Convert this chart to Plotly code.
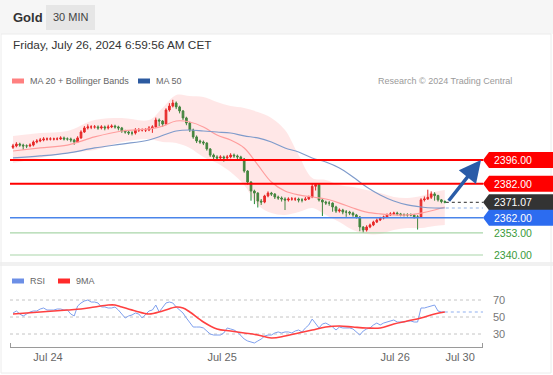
import plotly.graph_objects as go

W, HGT = 553, 375
def px(x): return x / W
def py(y): return 1 - y / HGT

# ---------------- DATA ----------------
first_open = 2403.5
closes = [2404.3, 2405.4, 2404.8, 2404.3, 2404.3, 2404.8, 2406.6, 2407.2, 2407.8, 2408.4,
          2408.4, 2408.4, 2408.4, 2408.4, 2409.0, 2408.4, 2408.4, 2407.8, 2406.6, 2409.0,
          2412.5, 2414.9, 2415.5, 2415.5, 2415.5, 2414.9, 2415.5, 2414.9, 2415.5, 2416.0,
          2415.5, 2414.9, 2413.1, 2412.5, 2411.9, 2411.9, 2413.7, 2413.7, 2413.7, 2413.7,
          2414.9, 2415.5, 2419.6, 2419.0, 2417.2, 2425.5, 2427.8, 2429.6, 2427.3, 2424.9,
          2420.8, 2417.8, 2413.7, 2409.6, 2407.2, 2406.6, 2406.0, 2402.5, 2398.9, 2397.8,
          2397.2, 2397.8, 2397.2, 2397.8, 2398.9, 2398.4, 2397.8, 2396.6, 2389.5, 2383.0,
          2377.7, 2376.5, 2371.8, 2371.2, 2374.8, 2376.5, 2375.9, 2374.2, 2373.6, 2373.0,
          2372.4, 2373.0, 2373.0, 2373.0, 2372.4, 2372.4, 2373.0, 2374.2, 2380.5, 2381.5,
          2372.4, 2371.2, 2370.6, 2370.6, 2368.3, 2365.9, 2366.5, 2365.3, 2365.3, 2364.7,
          2363.6, 2362.4, 2356.5, 2354.7, 2356.5, 2357.7, 2359.4, 2360.6, 2361.8, 2362.4,
          2363.6, 2364.2, 2364.7, 2364.2, 2363.6, 2363.6, 2363.6, 2363.6, 2362.4, 2362.4,
          2372.5, 2373.0, 2374.0, 2376.0, 2375.0, 2372.5, 2371.5, 2371.07]
highs = [2405.5, 2406.5, 2406.2, 2405.6, 2405.2, 2405.8, 2407.5, 2408.3, 2409.0, 2409.5,
         2409.3, 2409.4, 2409.2, 2409.4, 2410.0, 2409.8, 2409.3, 2409.2, 2408.5, 2410.0,
         2413.5, 2416.0, 2417.0, 2416.5, 2416.6, 2416.4, 2416.5, 2416.3, 2416.8, 2417.0,
         2416.8, 2416.2, 2415.5, 2413.8, 2413.2, 2413.0, 2414.8, 2414.8, 2414.6, 2414.8,
         2416.0, 2416.5, 2421.0, 2420.5, 2419.5, 2426.5, 2429.5, 2431.5, 2430.5, 2428.0,
         2425.5, 2421.5, 2418.5, 2414.5, 2410.5, 2408.0, 2407.5, 2406.5, 2403.0, 2399.8,
         2398.8, 2398.8, 2398.6, 2399.0, 2400.0, 2399.8, 2399.2, 2398.5, 2397.2, 2390.0,
         2383.5, 2378.5, 2377.0, 2373.0, 2375.5, 2377.5, 2377.2, 2376.5, 2375.0, 2374.5,
         2374.0, 2374.0, 2374.2, 2374.0, 2373.8, 2373.5, 2374.2, 2375.0, 2382.0, 2382.2,
         2382.0, 2373.0, 2372.0, 2371.8, 2371.0, 2369.0, 2367.5, 2367.2, 2366.5, 2366.0,
         2365.5, 2364.2, 2363.0, 2357.0, 2357.5, 2358.5, 2360.2, 2361.5, 2362.5, 2363.2,
         2364.5, 2365.2, 2365.5, 2365.5, 2364.8, 2364.5, 2364.6, 2364.5, 2364.2, 2363.5,
         2373.5, 2374.5, 2378.5, 2377.5, 2377.0, 2375.5, 2373.0, 2372.2]
lows = [2402.5, 2403.5, 2403.8, 2402.0, 2403.0, 2403.5, 2404.0, 2405.8, 2406.5, 2407.0,
        2407.4, 2407.5, 2407.5, 2407.6, 2407.8, 2407.5, 2407.4, 2406.5, 2405.0, 2406.0,
        2408.5, 2412.0, 2414.0, 2414.2, 2414.5, 2413.8, 2414.0, 2413.5, 2414.0, 2414.8,
        2414.5, 2413.5, 2412.0, 2411.5, 2410.8, 2410.5, 2411.0, 2412.5, 2412.8, 2412.5,
        2413.0, 2412.0, 2415.0, 2416.0, 2415.5, 2416.5, 2424.5, 2427.0, 2426.0, 2423.5,
        2419.5, 2416.5, 2412.5, 2408.5, 2406.0, 2405.5, 2404.8, 2401.5, 2397.8, 2396.5,
        2396.0, 2396.3, 2395.0, 2396.2, 2397.0, 2397.2, 2396.5, 2395.5, 2388.5, 2381.5,
        2372.0, 2370.0, 2368.0, 2369.5, 2370.5, 2374.0, 2374.8, 2373.0, 2372.5, 2371.5,
        2366.5, 2371.5, 2372.0, 2371.8, 2371.0, 2371.0, 2372.0, 2372.5, 2373.5, 2378.0,
        2371.5, 2363.0, 2369.5, 2369.0, 2365.5, 2364.8, 2365.0, 2364.0, 2362.5, 2363.5,
        2362.5, 2361.5, 2354.0, 2353.0, 2353.8, 2355.8, 2357.0, 2358.8, 2360.0, 2361.0,
        2361.8, 2363.0, 2363.5, 2363.2, 2362.8, 2362.7, 2362.6, 2362.8, 2361.5, 2355.0,
        2361.8, 2371.5, 2372.5, 2373.0, 2372.0, 2371.5, 2370.5, 2370.5]

band_idx = [0, 8, 16, 24, 32, 40, 44, 48, 52, 56, 60, 64, 68, 72, 76, 80, 84, 88, 92, 96,
            100, 104, 108, 112, 116, 120, 124, 127]
bb_upper = [2410.2, 2411.9, 2413.1, 2419.6, 2420.8, 2419.6, 2426.7, 2434.3, 2433.7, 2433.1,
            2430.2, 2427.8, 2426.7, 2424.3, 2420.8, 2413.7, 2398.9, 2385.4, 2384.2, 2381.3,
            2380.1, 2378.3, 2376.5, 2374.2, 2373.6, 2374.8, 2377.1, 2378.3]
ma20 = [2401.3, 2403.1, 2404.8, 2409.6, 2413.1, 2414.3, 2416.0, 2419.0, 2418.4, 2415.5,
        2410.7, 2407.8, 2403.1, 2393.1, 2383.0, 2377.7, 2375.4, 2374.2, 2373.0, 2370.6,
        2367.7, 2365.3, 2364.2, 2363.6, 2363.6, 2364.7, 2366.5, 2368.3]
bb_lower = [2394.2, 2397.2, 2400.1, 2401.9, 2406.6, 2408.4, 2406.6, 2406.0, 2403.1, 2397.8,
            2394.2, 2388.9, 2381.3, 2369.5, 2364.7, 2363.6, 2365.3, 2367.7, 2363.6, 2359.4,
            2354.7, 2352.4, 2352.4, 2354.7, 2355.9, 2355.9, 2357.1, 2357.7]

ma50_idx = [0, 8, 16, 24, 32, 40, 48, 52, 56, 60, 64, 68, 72, 76, 80, 84, 88, 92, 96, 100,
            104, 108, 112, 116, 120, 124, 127]
ma50 = [2397.2, 2398.4, 2400.1, 2403.1, 2405.4, 2407.8, 2413.1, 2413.7, 2413.1, 2412.5,
        2411.9, 2410.2, 2409.0, 2406.6, 2403.1, 2400.7, 2397.2, 2394.8, 2391.3, 2386.0,
        2380.1, 2375.4, 2371.8, 2369.5, 2368.3, 2367.7, 2367.7]

rsi = [54.7, 57.1, 53.5, 51.2, 53.5, 55.9, 57.1, 57.1, 59.4, 60.6,
       58.2, 58.2, 58.2, 59.4, 59.4, 58.2, 58.2, 53.5, 51.2, 62.9,
       66.5, 68.8, 70.0, 67.6, 67.6, 66.5, 61.8, 61.8, 60.6, 60.6,
       61.8, 58.2, 53.5, 48.8, 51.2, 52.4, 54.7, 53.5, 48.8, 52.4,
       57.1, 58.2, 64.1, 55.9, 60.6, 66.5, 67.6, 66.5, 61.8, 58.2,
       54.7, 48.8, 42.9, 38.2, 38.2, 38.2, 37.1, 33.5, 30.0, 28.8,
       28.8, 28.8, 31.2, 37.1, 35.9, 34.7, 32.4, 28.8, 24.1, 21.8,
       20.6, 19.4, 21.8, 24.1, 27.6, 28.8, 28.8, 31.2, 32.4, 31.2,
       32.4, 32.4, 31.2, 33.5, 34.7, 32.4, 37.1, 40.6, 47.6, 41.8,
       37.1, 41.8, 42.9, 40.6, 38.2, 34.7, 38.2, 37.1, 37.1, 37.1,
       35.9, 32.4, 28.8, 33.5, 35.9, 37.1, 40.6, 42.9, 40.6, 42.9,
       44.1, 45.3, 46.5, 44.1, 44.1, 44.1, 45.3, 45.3, 44.1, 44.1,
       60.6, 60.6, 61.8, 62.9, 64.1, 57.1, 55.9, 55.9]
ma9_idx = [0, 4, 8, 12, 16, 20, 24, 28, 30, 32, 36, 40, 44, 48, 50, 52, 56, 60, 64, 68,
           72, 76, 80, 84, 88, 92, 96, 100, 104, 108, 112, 116, 120, 124, 127]
ma9 = [53.5, 54.7, 55.9, 57.1, 58.2, 59.4, 61.8, 64.1, 64.1, 61.8, 57.1, 53.5, 57.1, 61.8,
       60.6, 55.9, 44.1, 35.9, 33.5, 31.2, 28.8, 25.3, 27.6, 31.2, 34.7, 38.2, 39.4, 38.2,
       37.1, 37.1, 41.8, 45.3, 48.8, 53.5, 55.9]

resistance_levels = [2396.00, 2382.00]
support_blue = 2362.00
support_green = [2353.00, 2340.00]
last_price = 2371.07
tick_pos = [10.3, 61.5, 112.4, 131.5]
tick_text = ["Jul 24", "Jul 25", "Jul 26", "Jul 30"]
rsi_ticks = [70, 50, 30]

# ---------------- LAYOUT GEOMETRY ----------------
X0PX, STEP = 13.0, 3.4
def xi(p):  # pixel -> bar index units for axis range
    return (p - X0PX) / STEP
PX_PER_USD = 1.696
Y_REF_PX, Y_REF_P = 160.0, 2396.0
RSI_PX_PER = 0.85

idx = list(range(len(closes)))
opens = [first_open] + closes[:-1]
last_i = idx[-1]

FONT = "Liberation Sans, Arial, sans-serif"
fig = go.Figure()

# Bollinger band
fig.add_trace(go.Scatter(x=band_idx, y=bb_upper, mode="lines", line=dict(width=0, shape="spline"),
                         hoverinfo="skip", showlegend=False))
fig.add_trace(go.Scatter(x=band_idx, y=bb_lower, mode="lines", line=dict(width=0, shape="spline"),
                         fill="tonexty", fillcolor="rgba(255,110,110,0.17)", hoverinfo="skip", showlegend=False))
fig.add_trace(go.Scatter(x=band_idx, y=ma20, mode="lines", line=dict(color="#ff9d9d", width=1.2, shape="spline"),
                         showlegend=False))
fig.add_trace(go.Scatter(x=ma50_idx, y=ma50, mode="lines", line=dict(color="#7f9bcb", width=1.2, shape="spline"),
                         showlegend=False))
# MA50 dotted extension
fig.add_trace(go.Scatter(x=[last_i + 0.3, xi(483)], y=[ma50[-1], ma50[-1]], mode="lines",
                         line=dict(color="#8fb0e6", width=1.2, dash="dot"), showlegend=False))
# last price dotted extension
fig.add_trace(go.Scatter(x=[last_i + 0.3, xi(483)], y=[last_price, last_price], mode="lines",
                         line=dict(color="#555555", width=1.2, dash="dot"), showlegend=False))

fig.add_trace(go.Candlestick(x=idx, open=opens, high=highs, low=lows, close=closes,
                             increasing=dict(line=dict(color="#e31b1b", width=1), fillcolor="#e31b1b"),
                             decreasing=dict(line=dict(color="#1f8a36", width=1), fillcolor="#1f8a36"),
                             whiskerwidth=0, showlegend=False))

# RSI panel
fig.add_trace(go.Scatter(x=idx, y=rsi, mode="lines", line=dict(color="#7fa0ee", width=1),
                         xaxis="x", yaxis="y2", showlegend=False))
fig.add_trace(go.Scatter(x=[last_i, xi(483)], y=[rsi[-1], rsi[-1]], mode="lines",
                         line=dict(color="#8fb0f0", width=1.2, dash="dot"), xaxis="x", yaxis="y2", showlegend=False))
fig.add_trace(go.Scatter(x=ma9_idx, y=ma9, mode="lines", line=dict(color="#ff4040", width=1.6, shape="spline"),
                         xaxis="x", yaxis="y2", showlegend=False))

shapes = []
annos = []
# header background
shapes.append(dict(type="rect", xref="paper", yref="paper", x0=0, x1=1, y0=py(34), y1=1,
                   fillcolor="#f6f6f6", line=dict(width=0), layer="below"))
shapes.append(dict(type="rect", xref="paper", yref="paper", x0=px(46), x1=px(95), y0=py(30), y1=py(5),
                   fillcolor="#e6e6e6", line=dict(width=0), layer="below"))
# panel separator & frame
shapes.append(dict(type="rect", xref="paper", yref="paper", x0=0, x1=1, y0=py(266), y1=py(262),
                   fillcolor="#f1f1f1", line=dict(width=0), layer="below"))
shapes.append(dict(type="rect", xref="paper", yref="paper", x0=px(1), x1=px(551), y0=py(373), y1=py(34),
                   fillcolor="rgba(0,0,0,0)", line=dict(color="#ececec", width=1), layer="below"))

# level lines
for lv in resistance_levels:
    shapes.append(dict(type="line", xref="paper", yref="y", x0=px(10), x1=px(483), y0=lv, y1=lv,
                       line=dict(color="#ff0000", width=2)))
shapes.append(dict(type="line", xref="paper", yref="y", x0=px(10), x1=px(483), y0=support_blue, y1=support_blue,
                   line=dict(color="#4a85ea", width=1.5)))
for lv in support_green:
    shapes.append(dict(type="line", xref="paper", yref="y", x0=px(10), x1=px(483), y0=lv, y1=lv,
                       line=dict(color="#a9d6a9", width=1.2)))

# price labels
def tag(price, color):
    shapes.append(dict(type="path", xref="paper", yref="y", xsizemode="pixel", ysizemode="pixel",
                       xanchor=px(483), yanchor=price,
                       path="M0,0 L6,8 L80,8 L80,-8 L6,-8 Z", fillcolor=color, line=dict(width=0)))
    annos.append(dict(x=px(492), y=price, xref="paper", yref="y", xanchor="left", yanchor="middle",
                      text=f"{price:.2f}", showarrow=False, font=dict(color="white", size=10.5, family=FONT)))
for lv in resistance_levels:
    tag(lv, "#ff0000")
tag(last_price, "#333333")
tag(support_blue, "#2c6cf0")
for lv in support_green:
    annos.append(dict(x=px(492), y=lv, xref="paper", yref="y", xanchor="left", yanchor="middle",
                      text=f"{lv:.2f}", showarrow=False, font=dict(color="#3a9a3a", size=10.5, family=FONT)))

# target arrow
annos.append(dict(x=xi(481), y=resistance_levels[0], xref="x", yref="y",
                  ax=last_i + 0.8, ay=last_price, axref="x", ayref="y", text="", showarrow=True,
                  arrowhead=2, arrowsize=1.25, arrowwidth=3.5, arrowcolor="#2a5ca8", standoff=0))

# RSI grid
for r in rsi_ticks:
    shapes.append(dict(type="line", xref="paper", yref="y2", x0=px(10), x1=px(483), y0=r, y1=r,
                       line=dict(color="#c4c4c4", width=1, dash="dot"), layer="below"))
    annos.append(dict(x=px(491), y=r, xref="paper", yref="y2", xanchor="left", yanchor="middle",
                      text=str(r), showarrow=False, font=dict(color="#777777", size=11, family=FONT)))
# x-axis end ticks
for xp in (10.5, 482.5):
    shapes.append(dict(type="line", xref="paper", yref="paper", x0=px(xp), x1=px(xp), y0=py(348), y1=py(343),
                       line=dict(color="#999999", width=1)))

# header texts
annos.append(dict(x=px(11), y=py(17), xref="paper", yref="paper", xanchor="left", yanchor="middle",
                  text="<b>Gold</b>", showarrow=False, font=dict(color="#333333", size=13, family=FONT)))
annos.append(dict(x=px(70.5), y=py(17), xref="paper", yref="paper", xanchor="center", yanchor="middle",
                  text="30 MIN", showarrow=False, font=dict(color="#444444", size=11, family=FONT)))
annos.append(dict(x=px(11), y=py(45), xref="paper", yref="paper", xanchor="left", yanchor="middle",
                  text="Friday, July 26, 2024 6:59:56 AM CET", showarrow=False,
                  font=dict(color="#333333", size=11.8, family=FONT)))
# legends
def legend_item(x_rect, y, color, label):
    shapes.append(dict(type="rect", xref="paper", yref="paper", x0=px(x_rect), x1=px(x_rect + 12),
                       y0=py(y + 2.5), y1=py(y - 2.5), fillcolor=color, line=dict(width=0)))
    annos.append(dict(x=px(x_rect + 16), y=py(y), xref="paper", yref="paper", xanchor="left", yanchor="middle",
                      text=label, showarrow=False, font=dict(color="#666666", size=9, family=FONT)))
legend_item(12, 81, "#ff8080", "MA 20 + Bollinger Bands")
legend_item(138, 81, "#2c5aa0", "MA 50")
legend_item(12, 281, "#6c8fe6", "RSI")
legend_item(58, 281, "#ff2a2a", "9MA")
annos.append(dict(x=px(514), y=py(81), xref="paper", yref="paper", xanchor="right", yanchor="middle",
                  text="Research © 2024 Trading Central", showarrow=False,
                  font=dict(color="#9a9a9a", size=9, family=FONT)))

main_bot_px, main_top_px = 262, 90
rsi_bot_px, rsi_top_px = 347, 290
fig.update_layout(
    width=W, height=HGT, margin=dict(l=0, r=0, t=0, b=0),
    paper_bgcolor="white", plot_bgcolor="rgba(0,0,0,0)",
    showlegend=False, shapes=shapes, annotations=annos,
    font=dict(family=FONT), hovermode=False,
    xaxis=dict(domain=[px(10), px(483)], range=[xi(10), xi(483)], anchor="y2",
               rangeslider=dict(visible=False), showgrid=False, zeroline=False,
               showline=True, linecolor="#9a9a9a", linewidth=1,
               tickmode="array", tickvals=tick_pos, ticktext=tick_text, ticks="",
               tickfont=dict(color="#666666", size=11, family=FONT)),
    yaxis=dict(domain=[py(main_bot_px), py(main_top_px)],
               range=[Y_REF_P - (main_bot_px - Y_REF_PX) / PX_PER_USD, Y_REF_P + (Y_REF_PX - main_top_px) / PX_PER_USD],
               showgrid=False, zeroline=False, showticklabels=False, anchor="x"),
    yaxis2=dict(domain=[py(rsi_bot_px), py(rsi_top_px)],
                range=[50 - (rsi_bot_px - 317) / RSI_PX_PER, 50 + (317 - rsi_top_px) / RSI_PX_PER],
                showgrid=False, zeroline=False, showticklabels=False, anchor="x"),
)
fig.write_html("out.html", config={"displayModeBar": False},
               post_script="document.body.style.margin='0';document.body.style.overflow='hidden';")
